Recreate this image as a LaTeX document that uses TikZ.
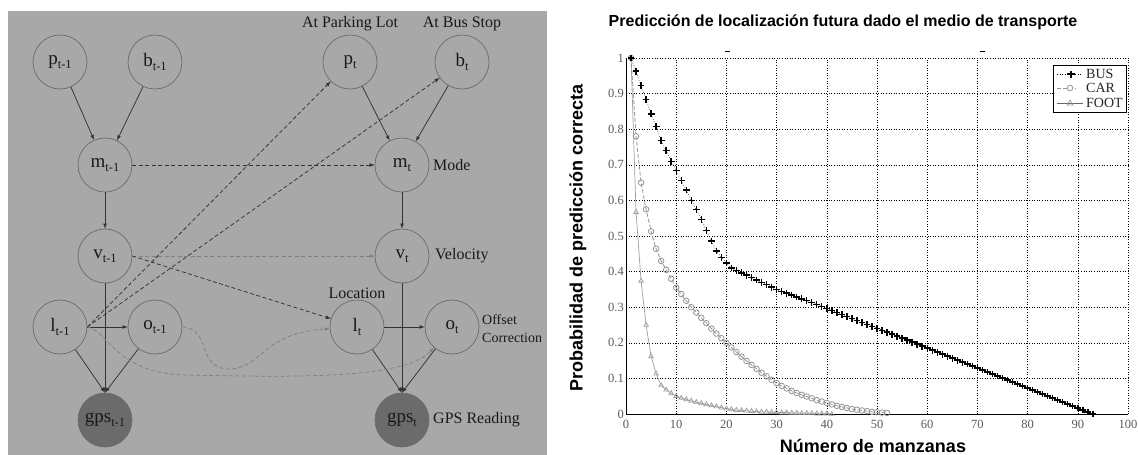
\documentclass[tikz,border=0pt]{standalone}
\usepackage{fontspec}
\setmainfont{Liberation Serif}
\setsansfont{Liberation Sans}
\usetikzlibrary{plotmarks}

\definecolor{panelgray}{gray}{0.66}
\definecolor{ringgray}{gray}{0.42}
\definecolor{obsgray}{gray}{0.42}
\definecolor{inkgray}{gray}{0.1}
\definecolor{tickgray}{gray}{0.35}

\newcommand{\lowsub}[1]{\raisebox{-.45ex}{\fontsize{12.5}{12.5}\selectfont #1}}

\tikzset{
  var/.style={circle, draw=ringgray, fill=panelgray, line width=0.7pt, minimum size=54pt, inner sep=0pt, text=inkgray, font=\fontsize{19}{19}\selectfont},
  obs/.style={var, fill=obsgray},
  lbl/.style={text=inkgray, font=\fontsize{16}{16}\selectfont, inner sep=1pt},
  arc/.style={->, >=latex, line width=0.75pt, draw=black!80},
  tarc/.style={arc, dash pattern=on 4pt off 2.5pt},
  larc/.style={tarc, draw=black!50},
  gridline/.style={line width=0.6pt, dotted},
  tick/.style={text=tickgray, font=\fontsize{12.5}{12.5}\selectfont, inner sep=2pt},
  keytext/.style={text=black!85, font=\fontsize{14}{14}\selectfont, inner sep=1pt},
  axislbl/.style={font=\sffamily\bfseries\fontsize{18}{18}\selectfont},
}

\begin{document}
\begin{tikzpicture}[x=1pt, y=-1pt]
  \useasboundingbox (0,0) rectangle (1138,455);

  % left: the two time slices of the network
  \fill[panelgray] (8,11) rectangle (547,455);

  \node[var] (pPrev) at (60,62) {p\lowsub{t-1}};
  \node[var] (bPrev) at (155,62) {b\lowsub{t-1}};
  \node[var] (mPrev) at (105,165) {m\lowsub{t-1}};
  \node[var] (vPrev) at (105,256) {v\lowsub{t-1}};
  \node[var] (lPrev) at (60,327) {l\lowsub{t-1}};
  \node[var] (oPrev) at (155,327) {o\lowsub{t-1}};
  \node[obs] (gPrev) at (105,420) {gps\lowsub{t-1}};

  \node[var] (pNow) at (350,62) {p\lowsub{t}};
  \node[var] (bNow) at (462,62) {b\lowsub{t}};
  \node[var] (mNow) at (402,165) {m\lowsub{t}};
  \node[var] (vNow) at (402,256) {v\lowsub{t}};
  \node[var] (lNow) at (357,327) {l\lowsub{t}};
  \node[var] (oNow) at (452,327) {o\lowsub{t}};
  \node[obs] (gNow) at (402,420) {gps\lowsub{t}};

  \node[lbl] (parkLbl) at (350,24) {At Parking Lot};
  \node[lbl] (busLbl) at (462,24) {At Bus Stop};
  \node[lbl, anchor=west] (modeLbl) at (432,165) {Mode};
  \node[lbl, anchor=west] (velLbl) at (434,256) {Velocity};
  \node[lbl] (locLbl) at (357,293) {Location};
  \node[lbl, anchor=west, align=left, font=\fontsize{14}{18}\selectfont] (offLbl) at (481,329) {Offset\\Correction};
  \node[lbl, anchor=west] (gpsLbl) at (432,420) {GPS Reading};

  % within a slice
  \draw[arc] (pPrev) -- (mPrev);
  \draw[arc] (bPrev) -- (mPrev);
  \draw[arc] (mPrev) -- (vPrev);
  \draw[arc] (lPrev) -- (oPrev);
  \draw[arc] (vPrev) -- (gPrev.north);
  \draw[arc] (lPrev) -- (gPrev.north);
  \draw[arc] (oPrev) -- (gPrev.north);
  \draw[arc] (pNow) -- (mNow);
  \draw[arc] (bNow) -- (mNow);
  \draw[arc] (mNow) -- (vNow);
  \draw[arc] (lNow) -- (oNow);
  \draw[arc] (vNow) -- (gNow.north);
  \draw[arc] (lNow) -- (gNow.north);
  \draw[arc] (oNow) -- (gNow.north);

  % between slices
  \draw[tarc] (mPrev) -- (mNow);
  \draw[larc] (vPrev) -- (vNow);
  \draw[tarc] (vPrev.east) -- (lNow);
  \draw[tarc] (lPrev.east) -- (pNow);
  \draw[tarc] (lPrev.east) -- (bNow);
  \draw[larc] (oPrev.east) .. controls (212,328) and (196,370) .. (230,369)
    .. controls (262,368) and (262,333) .. (lNow);
  \draw[larc] (lPrev.east) .. controls (110,332) and (115,373) .. (185,375)
    .. controls (290,377) and (405,380) .. (oNow);

  % right: prediction curves
  \node[font=\sffamily\bfseries\fontsize{16}{16}\selectfont] (ttl) at (843,22) {Predicción de localización futura dado el medio de transporte};
  \node[axislbl, rotate=90] (yLbl) at (578,238) {Probabilidad de predicción correcta};
  \node[axislbl] (xLbl) at (873,446) {Número de manzanas};
  \draw[line width=0.8pt] (725,51) -- (730,51);
  \draw[line width=0.8pt] (980,51) -- (985,51);

  \begin{scope}[shift={(626,414)}, x=5.02pt, y=356pt]
    \foreach \gx in {10,20,...,100}
      \draw[gridline] (\gx,0) -- (\gx,1);
    \foreach \gy in {1,...,10}
      \draw[gridline] (0,\gy/10) -- (100,\gy/10);
    \draw[line width=0.9pt] (0,1) -- (0,0) -- (100,0);
    \foreach \gx in {0,10,...,100}
      \node[tick, anchor=north] (xt\gx) at (\gx,-0.01) {\gx};
    \node[tick, anchor=east] (yt0) at (0,0) {0};
    \foreach \gy in {1,...,9}
      \node[tick, anchor=east] (yt\gy) at (0,\gy/10) {0.\gy};
    \node[tick, anchor=east] (yt10) at (0,1) {1};

    % FOOT
    \draw[black!38, line width=0.7pt, mark=triangle, mark size=2.7pt] plot coordinates {
      (1,1) (2,0.567) (3,0.374) (4,0.25) (5,0.162) (6,0.113) (7,0.08) (8,0.068)
      (9,0.058) (10,0.05) (11,0.045) (12,0.041) (13,0.037) (14,0.033) (15,0.03)
      (16,0.027) (17,0.024) (18,0.021) (19,0.018) (20,0.015) (21,0.013) (22,0.011)
      (23,0.01) (24,0.009) (25,0.008) (26,0.007) (27,0.006) (28,0.006) (29,0.005)
      (30,0.005) (31,0.004) (32,0.004) (33,0.003) (34,0.003) (35,0.002) (36,0.002)
      (37,0.002) (38,0.001) (39,0.001) (40,0.001) (41,0)};
    % CAR
    \draw[black!42, line width=0.8pt, dash pattern=on 4pt off 2pt, mark=o, mark size=2.8pt, mark options={solid}] plot coordinates {
      (1,1) (2,0.78) (3,0.65) (4,0.575) (5,0.513) (6,0.464) (7,0.43) (8,0.405)
      (9,0.38) (10,0.355) (11,0.337) (12,0.318) (13,0.3) (14,0.285) (15,0.27)
      (16,0.255) (17,0.24) (18,0.226) (19,0.213) (20,0.2) (21,0.187) (22,0.174)
      (23,0.161) (24,0.149) (25,0.138) (26,0.127) (27,0.116) (28,0.106) (29,0.096)
      (30,0.087) (31,0.079) (32,0.072) (33,0.065) (34,0.059) (35,0.054) (36,0.049)
      (37,0.044) (38,0.039) (39,0.035) (40,0.031) (41,0.027) (42,0.023) (43,0.02)
      (44,0.017) (45,0.014) (46,0.012) (47,0.01) (48,0.008) (49,0.006) (50,0.005)
      (51,0.004) (52,0.003)};
    % BUS
    \draw[black, line width=0.6pt, dotted, mark=+, mark size=3.4pt, mark options={solid, line width=1.4pt}] plot coordinates {
      (1,1) (2,0.963) (3,0.922) (4,0.883) (5,0.843) (6,0.808) (7,0.768) (8,0.74)
      (9,0.71) (10,0.684) (11,0.656) (12,0.629) (13,0.6) (14,0.575) (15,0.547)
      (16,0.516) (17,0.486) (18,0.458) (19,0.44) (20,0.424)}
      -- plot[domain=21:93, samples=73] (\x, {\x<30 ? 0.41-0.0067*(\x-21) : (\x<40 ? 0.35-0.0053*(\x-30) : 0.297-0.0056*(\x-40))});
  \end{scope}

  % legend
  \draw[line width=1pt, fill=white] (1053,65) rectangle (1126,112);
  \draw[black, line width=0.6pt, dotted] (1057,74) -- (1082,74);
  \draw[black, line width=1.3pt] (1067,74) -- (1075,74) (1071,70.5) -- (1071,77.5);
  \node[keytext, anchor=west] (busKey) at (1085,74) {BUS};
  \draw[black!42, line width=0.8pt, dash pattern=on 4pt off 2pt] (1057,88) -- (1076,88);
  \draw[black!42, line width=0.8pt, fill=white] (1070,88) circle (2.8pt);
  \node[keytext, anchor=west] (carKey) at (1085,88) {CAR};
  \draw[black!60, line width=0.9pt] (1057,103) -- (1083,103);
  \draw[black!38, line width=0.7pt] (1067,105) -- (1070,100) -- (1073,105) -- cycle;
  \node[keytext, anchor=west] (footKey) at (1085,103) {FOOT};
\end{tikzpicture}
\end{document}
